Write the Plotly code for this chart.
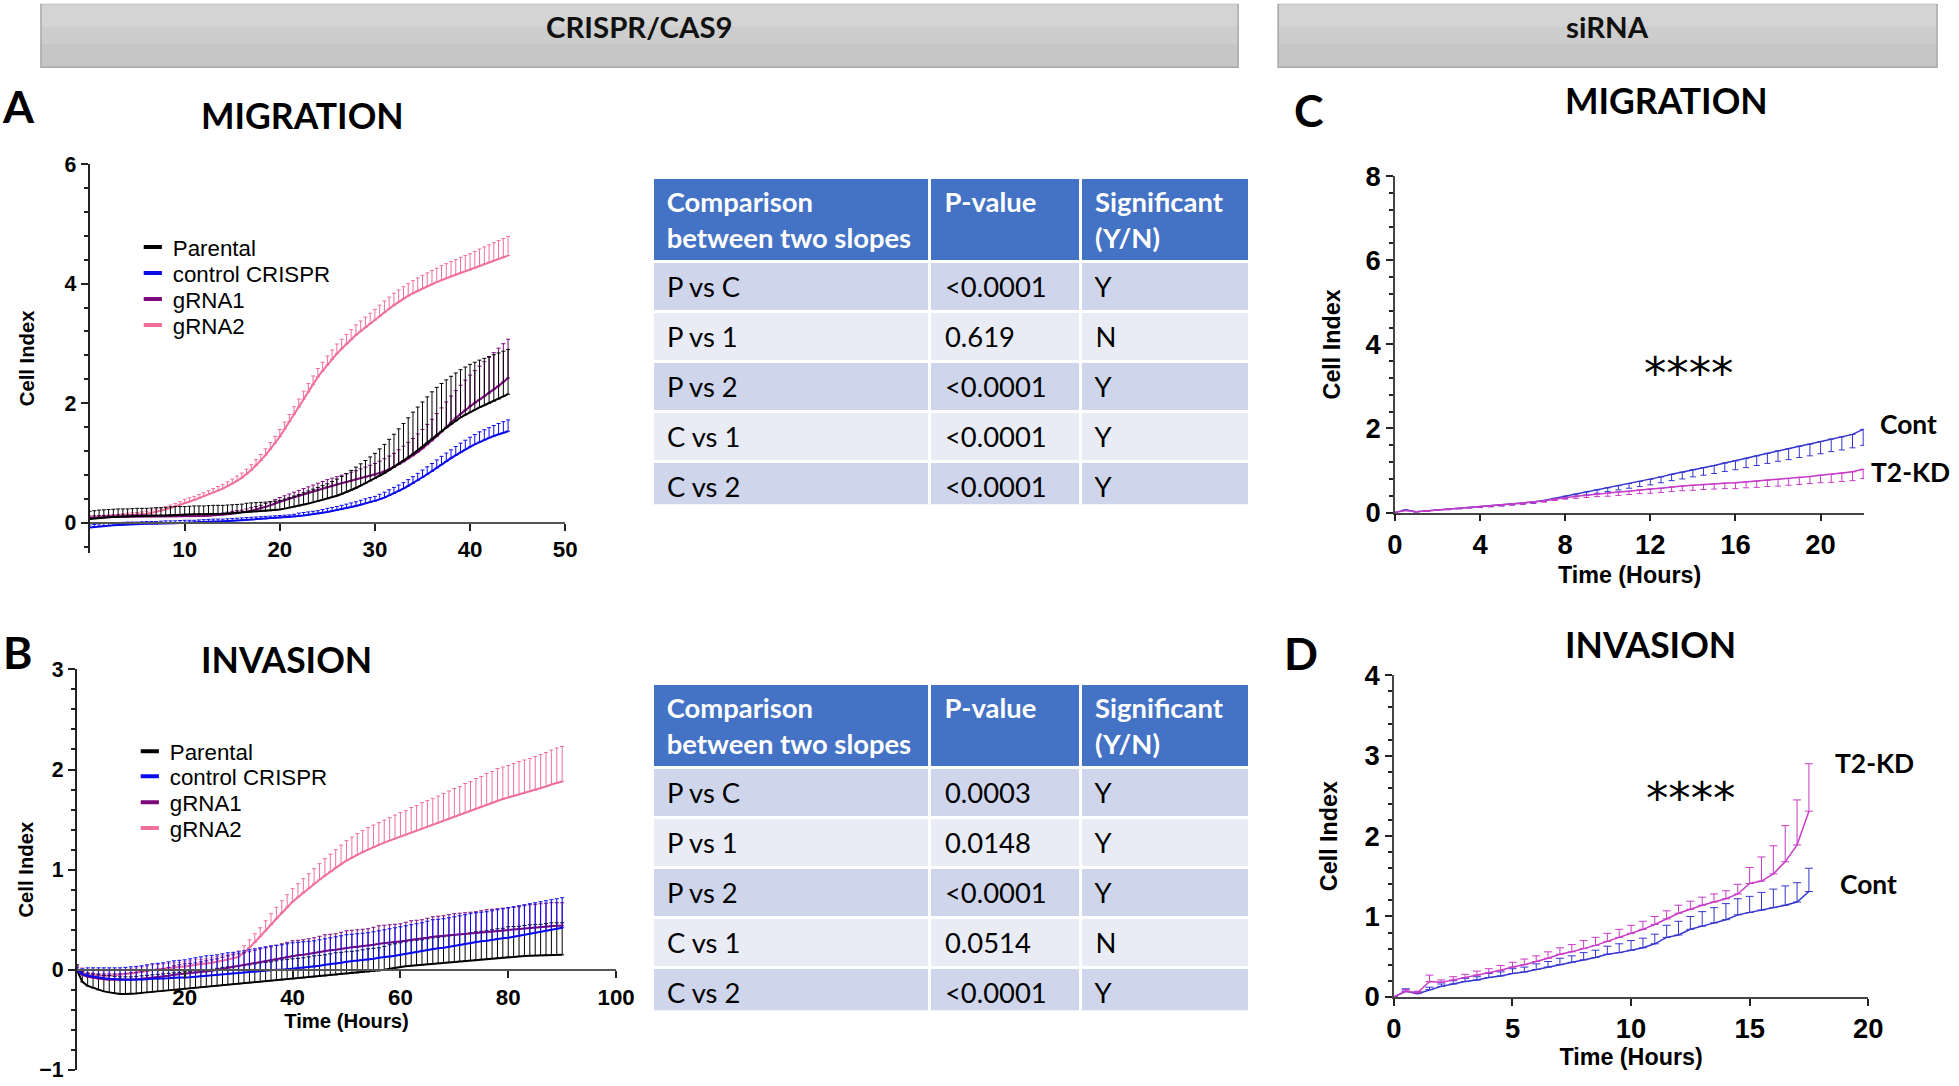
import plotly.graph_objects as go

W, H = 1959, 1086

# ---------------- DATA ----------------
hours_A = [i * 0.5 for i in range(89)]
parental_A = [0.06,0.07,0.08,0.085,0.09,0.095,0.10,0.10,0.10,0.105,
              0.11,0.11,0.11,0.115,0.12,0.12,0.12,0.125,0.13,0.13,
              0.13,0.135,0.14,0.14,0.14,0.145,0.15,0.15,0.15,0.155,
              0.16,0.165,0.17,0.175,0.18,0.185,0.19,0.195,0.20,0.21,
              0.22,0.235,0.25,0.265,0.28,0.30,0.32,0.34,0.36,0.38,
              0.40,0.425,0.45,0.48,0.51,0.545,0.58,0.62,0.66,0.70,
              0.74,0.785,0.83,0.88,0.93,0.985,1.04,1.095,1.15,1.21,
              1.27,1.335,1.40,1.465,1.53,1.59,1.65,1.705,1.76,1.805,
              1.85,1.89,1.93,1.965,2.00,2.035,2.07,2.11,2.15]
parental_A_err = [0.13,0.13,0.13,0.13,0.13,0.13,0.13,0.13,0.13,0.13,
                  0.13,0.13,0.13,0.13,0.13,0.13,0.13,0.14,0.14,0.14,
                  0.14,0.14,0.14,0.14,0.14,0.14,0.14,0.14,0.14,0.14,
                  0.14,0.14,0.14,0.15,0.15,0.15,0.15,0.15,0.15,0.15,
                  0.15,0.16,0.17,0.18,0.19,0.20,0.21,0.22,0.23,0.24,
                  0.25,0.265,0.28,0.295,0.31,0.33,0.35,0.365,0.38,0.40,
                  0.42,0.45,0.48,0.515,0.55,0.585,0.62,0.66,0.70,0.725,
                  0.75,0.77,0.79,0.80,0.80,0.80,0.80,0.80,0.80,0.80,
                  0.80,0.795,0.79,0.785,0.78,0.775,0.77,0.76,0.75]
control_A = [-0.08,-0.07,-0.06,-0.055,-0.05,-0.045,-0.04,-0.035,-0.03,-0.03,
             -0.03,-0.025,-0.02,-0.02,-0.02,-0.015,-0.01,-0.01,-0.01,-0.005,
             0.00,0.00,0.00,0.005,0.01,0.015,0.02,0.02,0.02,0.025,
             0.03,0.035,0.04,0.045,0.05,0.055,0.06,0.065,0.07,0.075,
             0.08,0.085,0.09,0.10,0.11,0.12,0.13,0.14,0.15,0.165,
             0.18,0.195,0.21,0.225,0.24,0.26,0.28,0.30,0.32,0.34,
             0.36,0.39,0.42,0.455,0.49,0.53,0.57,0.615,0.66,0.71,
             0.76,0.81,0.86,0.915,0.97,1.025,1.08,1.13,1.18,1.225,
             1.27,1.31,1.35,1.385,1.42,1.45,1.48,1.505,1.53]
control_A_err = [0.04,0.04,0.04,0.04,0.04,0.04,0.04,0.04,0.04,0.04,
                 0.04,0.04,0.04,0.04,0.04,0.04,0.04,0.04,0.04,0.04,
                 0.04,0.04,0.04,0.04,0.04,0.04,0.04,0.04,0.04,0.04,
                 0.04,0.04,0.04,0.04,0.04,0.04,0.04,0.04,0.04,0.04,
                 0.04,0.04,0.04,0.04,0.05,0.05,0.05,0.05,0.05,0.055,
                 0.06,0.06,0.06,0.065,0.07,0.07,0.07,0.075,0.08,0.08,
                 0.08,0.085,0.09,0.095,0.10,0.10,0.10,0.105,0.11,0.115,
                 0.12,0.125,0.13,0.135,0.14,0.14,0.14,0.145,0.15,0.155,
                 0.16,0.165,0.17,0.17,0.17,0.175,0.18,0.185,0.19]
grna1_A = [0.08,0.085,0.09,0.09,0.09,0.095,0.10,0.10,0.10,0.10,
           0.10,0.10,0.10,0.10,0.10,0.10,0.10,0.10,0.10,0.105,
           0.11,0.11,0.11,0.11,0.11,0.115,0.12,0.125,0.13,0.14,
           0.15,0.16,0.17,0.185,0.20,0.22,0.24,0.265,0.29,0.32,
           0.35,0.375,0.40,0.425,0.45,0.475,0.50,0.525,0.55,0.575,
           0.60,0.62,0.64,0.66,0.68,0.70,0.72,0.74,0.76,0.78,
           0.80,0.83,0.86,0.895,0.93,0.975,1.02,1.07,1.12,1.18,
           1.24,1.305,1.37,1.445,1.52,1.60,1.68,1.75,1.82,1.885,
           1.95,2.005,2.06,2.115,2.17,2.23,2.29,2.355,2.42]
grna1_A_err = [0.03,0.03,0.03,0.03,0.03,0.03,0.03,0.03,0.03,0.03,
               0.03,0.03,0.03,0.03,0.03,0.03,0.03,0.03,0.03,0.03,
               0.03,0.03,0.03,0.03,0.03,0.03,0.03,0.03,0.03,0.035,
               0.04,0.04,0.04,0.045,0.05,0.05,0.05,0.055,0.06,0.065,
               0.07,0.075,0.08,0.085,0.09,0.095,0.10,0.105,0.11,0.115,
               0.12,0.125,0.13,0.135,0.14,0.145,0.15,0.16,0.17,0.18,
               0.19,0.20,0.21,0.22,0.23,0.245,0.26,0.275,0.29,0.305,
               0.32,0.34,0.36,0.38,0.40,0.42,0.44,0.46,0.48,0.50,
               0.52,0.54,0.56,0.58,0.60,0.615,0.63,0.64,0.65]
grna2_A = [0.08,0.085,0.09,0.095,0.10,0.105,0.11,0.115,0.12,0.125,
           0.13,0.14,0.15,0.165,0.18,0.20,0.22,0.245,0.27,0.30,
           0.33,0.355,0.38,0.41,0.44,0.47,0.50,0.535,0.57,0.61,
           0.65,0.70,0.75,0.81,0.88,0.96,1.04,1.13,1.23,1.33,
           1.44,1.565,1.69,1.815,1.94,2.065,2.19,2.315,2.44,2.54,
           2.64,2.735,2.83,2.91,2.99,3.065,3.14,3.205,3.27,3.33,
           3.39,3.455,3.52,3.58,3.64,3.695,3.75,3.795,3.84,3.88,
           3.92,3.955,3.99,4.025,4.06,4.09,4.12,4.15,4.18,4.205,
           4.23,4.265,4.30,4.33,4.36,4.39,4.42,4.445,4.47]
grna2_A_err = [0.03,0.03,0.03,0.03,0.03,0.03,0.03,0.035,0.04,0.04,
               0.04,0.04,0.04,0.045,0.05,0.05,0.05,0.05,0.05,0.055,
               0.06,0.06,0.06,0.06,0.06,0.065,0.07,0.07,0.07,0.075,
               0.08,0.08,0.08,0.085,0.09,0.095,0.10,0.105,0.11,0.115,
               0.12,0.12,0.12,0.125,0.13,0.135,0.14,0.14,0.14,0.145,
               0.15,0.155,0.16,0.16,0.16,0.165,0.17,0.17,0.17,0.175,
               0.18,0.185,0.19,0.195,0.20,0.20,0.20,0.205,0.21,0.215,
               0.22,0.225,0.23,0.235,0.24,0.245,0.25,0.255,0.26,0.265,
               0.27,0.275,0.28,0.285,0.29,0.295,0.30,0.31,0.32]

hours_B = list(range(91))
parental_B = [0.00,-0.12,-0.16,-0.18,-0.20,-0.215,-0.225,-0.235,-0.24,-0.24,
              -0.24,-0.235,-0.23,-0.225,-0.22,-0.215,-0.21,-0.205,-0.20,-0.195,
              -0.19,-0.185,-0.18,-0.175,-0.17,-0.165,-0.16,-0.155,-0.15,-0.145,
              -0.14,-0.135,-0.13,-0.125,-0.12,-0.115,-0.11,-0.105,-0.10,-0.095,
              -0.09,-0.085,-0.08,-0.075,-0.07,-0.065,-0.06,-0.055,-0.05,-0.045,
              -0.04,-0.035,-0.03,-0.025,-0.02,-0.015,-0.01,0.00,0.01,0.02,
              0.03,0.035,0.04,0.045,0.05,0.055,0.06,0.065,0.07,0.075,
              0.08,0.085,0.09,0.095,0.10,0.105,0.11,0.115,0.12,0.125,
              0.13,0.132,0.135,0.138,0.14,0.142,0.145,0.148,0.15,0.15,
              0.15]
parental_B_err = [0.05,0.10,0.12,0.14,0.15,0.16,0.17,0.17,0.17,0.17,
                  0.17,0.17,0.17,0.17,0.17,0.17,0.17,0.17,0.17,0.17,
                  0.17,0.17,0.17,0.17,0.17,0.17,0.175,0.18,0.18,0.18,
                  0.18,0.18,0.18,0.185,0.19,0.19,0.19,0.195,0.20,0.20,
                  0.20,0.20,0.20,0.205,0.21,0.21,0.21,0.215,0.22,0.22,
                  0.22,0.22,0.22,0.225,0.23,0.23,0.23,0.235,0.24,0.24,
                  0.24,0.245,0.25,0.25,0.25,0.255,0.26,0.26,0.26,0.265,
                  0.27,0.27,0.27,0.275,0.28,0.28,0.28,0.285,0.29,0.29,
                  0.30,0.30,0.30,0.305,0.31,0.31,0.31,0.315,0.32,0.32,
                  0.32]
control_B = [0.00,-0.04,-0.06,-0.07,-0.08,-0.085,-0.09,-0.095,-0.10,-0.10,
             -0.10,-0.10,-0.10,-0.095,-0.09,-0.09,-0.09,-0.085,-0.08,-0.08,
             -0.08,-0.075,-0.07,-0.065,-0.06,-0.055,-0.05,-0.045,-0.04,-0.035,
             -0.03,-0.025,-0.02,-0.015,-0.01,-0.005,0.00,0.00,0.00,0.005,
             0.01,0.015,0.02,0.025,0.03,0.04,0.05,0.055,0.06,0.07,
             0.08,0.085,0.09,0.095,0.10,0.11,0.12,0.125,0.13,0.14,
             0.15,0.16,0.17,0.18,0.19,0.20,0.21,0.215,0.22,0.23,
             0.24,0.25,0.26,0.27,0.28,0.285,0.29,0.30,0.31,0.315,
             0.32,0.33,0.34,0.35,0.36,0.37,0.38,0.39,0.40,0.41,
             0.42]
control_B_err = [0.02,0.05,0.08,0.09,0.10,0.105,0.11,0.115,0.12,0.125,
                 0.13,0.135,0.14,0.145,0.15,0.155,0.16,0.165,0.17,0.175,
                 0.18,0.185,0.19,0.195,0.20,0.20,0.20,0.205,0.21,0.21,
                 0.21,0.215,0.22,0.225,0.23,0.235,0.24,0.245,0.25,0.255,
                 0.26,0.26,0.26,0.26,0.26,0.26,0.26,0.265,0.27,0.27,
                 0.27,0.27,0.27,0.27,0.27,0.27,0.27,0.275,0.28,0.28,
                 0.28,0.28,0.28,0.28,0.28,0.285,0.29,0.29,0.29,0.29,
                 0.29,0.29,0.29,0.29,0.29,0.29,0.29,0.29,0.29,0.295,
                 0.30,0.30,0.30,0.30,0.30,0.30,0.30,0.30,0.30,0.30,
                 0.30]
grna1_B = [0.00,-0.05,-0.07,-0.08,-0.09,-0.095,-0.10,-0.10,-0.10,-0.10,
           -0.10,-0.095,-0.09,-0.085,-0.08,-0.075,-0.07,-0.06,-0.05,-0.045,
           -0.04,-0.035,-0.03,-0.025,-0.02,-0.01,0.00,0.01,0.02,0.03,
           0.04,0.05,0.06,0.07,0.08,0.09,0.10,0.11,0.12,0.13,
           0.14,0.145,0.15,0.16,0.17,0.18,0.19,0.195,0.20,0.21,
           0.22,0.225,0.23,0.235,0.24,0.25,0.26,0.265,0.27,0.275,
           0.28,0.29,0.30,0.305,0.31,0.32,0.33,0.335,0.34,0.345,
           0.35,0.355,0.36,0.365,0.37,0.375,0.38,0.385,0.39,0.395,
           0.40,0.405,0.41,0.415,0.42,0.425,0.43,0.435,0.44,0.44,
           0.44]
grna1_B_err = [0.03,0.035,0.04,0.045,0.05,0.055,0.06,0.06,0.06,0.065,
               0.07,0.07,0.07,0.075,0.08,0.08,0.08,0.085,0.09,0.095,
               0.10,0.10,0.10,0.105,0.11,0.11,0.11,0.115,0.12,0.12,
               0.12,0.12,0.12,0.125,0.13,0.13,0.13,0.135,0.14,0.145,
               0.15,0.15,0.15,0.15,0.15,0.155,0.16,0.16,0.16,0.165,
               0.17,0.17,0.17,0.17,0.17,0.175,0.18,0.18,0.18,0.18,
               0.18,0.185,0.19,0.19,0.19,0.195,0.20,0.20,0.20,0.205,
               0.21,0.21,0.21,0.21,0.21,0.215,0.22,0.22,0.22,0.22,
               0.22,0.22,0.22,0.225,0.23,0.23,0.23,0.23,0.23,0.23,
               0.23]
grna2_B = [0.00,-0.03,-0.05,-0.055,-0.06,-0.06,-0.06,-0.055,-0.05,-0.045,
           -0.04,-0.03,-0.02,-0.01,0.00,0.005,0.01,0.015,0.02,0.025,
           0.03,0.04,0.05,0.055,0.06,0.07,0.08,0.09,0.10,0.115,
           0.13,0.17,0.22,0.275,0.33,0.39,0.45,0.51,0.57,0.625,
           0.68,0.725,0.77,0.815,0.86,0.90,0.94,0.98,1.02,1.055,
           1.09,1.12,1.15,1.175,1.20,1.225,1.25,1.27,1.29,1.31,
           1.33,1.35,1.37,1.39,1.41,1.43,1.45,1.47,1.49,1.51,
           1.53,1.55,1.57,1.59,1.61,1.63,1.65,1.67,1.69,1.705,
           1.72,1.735,1.75,1.765,1.78,1.795,1.81,1.83,1.85,1.865,
           1.88]
grna2_B_err = [0.05,0.05,0.05,0.05,0.05,0.05,0.05,0.05,0.05,0.05,
               0.05,0.05,0.05,0.05,0.05,0.05,0.05,0.05,0.05,0.05,
               0.05,0.05,0.05,0.05,0.05,0.05,0.05,0.05,0.05,0.05,
               0.06,0.07,0.08,0.085,0.09,0.10,0.11,0.115,0.12,0.125,
               0.13,0.135,0.14,0.145,0.15,0.16,0.17,0.175,0.18,0.19,
               0.20,0.205,0.21,0.215,0.22,0.22,0.22,0.225,0.23,0.235,
               0.24,0.24,0.25,0.25,0.26,0.26,0.26,0.265,0.27,0.275,
               0.28,0.28,0.29,0.29,0.30,0.30,0.31,0.31,0.32,0.32,
               0.32,0.325,0.33,0.33,0.33,0.335,0.34,0.34,0.345,0.35,
               0.35]

hours_C = [i * 0.5 for i in range(45)]
cont_C = [0,0.06,0.02,0.04,0.06,0.08,0.10,0.12,0.14,0.16,0.18,0.20,0.22,0.25,0.29,0.34,0.39,0.44,0.49,0.54,
          0.59,0.64,0.69,0.74,0.79,0.85,0.91,0.96,1.02,1.07,1.12,1.18,1.23,1.29,1.35,1.41,1.47,1.52,1.58,1.63,
          1.69,1.75,1.80,1.86,1.98]
cont_C_err = [0,0,0.01,0.01,0.01,0.01,0.01,0.01,0.02,0.02,0.02,0.02,0.02,0.03,0.03,0.04,0.05,0.06,0.07,0.08,
              0.09,0.10,0.11,0.12,0.13,0.14,0.15,0.16,0.17,0.18,0.19,0.20,0.21,0.22,0.23,0.24,0.25,0.26,0.27,0.28,
              0.29,0.30,0.31,0.32,0.38]
kd_C = [0,0.05,0.02,0.04,0.06,0.08,0.10,0.12,0.14,0.16,0.18,0.20,0.22,0.25,0.28,0.32,0.36,0.39,0.41,0.44,
        0.46,0.49,0.51,0.54,0.56,0.58,0.61,0.63,0.65,0.67,0.69,0.70,0.71,0.73,0.75,0.77,0.79,0.81,0.84,0.86,
        0.89,0.91,0.94,0.97,1.03]
kd_C_err = [0,0,0.01,0.01,0.01,0.01,0.01,0.01,0.01,0.02,0.02,0.02,0.02,0.02,0.03,0.03,0.04,0.05,0.05,0.06,
            0.07,0.08,0.08,0.09,0.10,0.10,0.11,0.11,0.12,0.12,0.13,0.13,0.14,0.14,0.15,0.15,0.16,0.16,0.17,0.17,
            0.18,0.19,0.20,0.21,0.22]

hours_D = [i * 0.5 for i in range(36)]
cont_D = [0,0.07,0.04,0.09,0.13,0.16,0.19,0.21,0.24,0.26,0.29,0.31,0.34,0.37,0.40,0.43,0.46,0.49,
          0.53,0.55,0.58,0.61,0.66,0.74,0.77,0.84,0.88,0.92,0.96,1.02,1.05,1.08,1.11,1.14,1.18,1.31]
cont_D_err = [0,0.03,0.02,0.03,0.03,0.04,0.04,0.04,0.05,0.05,0.06,0.06,0.07,0.07,0.08,0.08,0.09,0.09,
              0.10,0.11,0.12,0.12,0.12,0.15,0.17,0.16,0.18,0.19,0.20,0.20,0.20,0.22,0.23,0.24,0.24,0.29]
kd_D = [0,0.07,0.05,0.19,0.18,0.21,0.24,0.27,0.30,0.33,0.37,0.40,0.44,0.48,0.53,0.56,0.60,0.64,
        0.69,0.74,0.79,0.84,0.90,0.97,1.04,1.09,1.14,1.18,1.22,1.28,1.41,1.44,1.53,1.68,1.89,2.31]
kd_D_err = [0,0.02,0.02,0.08,0.03,0.04,0.04,0.05,0.05,0.06,0.06,0.07,0.07,0.08,0.08,0.09,0.10,0.10,
            0.10,0.10,0.10,0.10,0.10,0.10,0.10,0.10,0.10,0.10,0.10,0.12,0.20,0.30,0.35,0.45,0.56,0.59]

comparisons = ["P vs C", "P vs 1", "P vs 2", "C vs 1", "C vs 2"]
pvals_mig = ["&lt;0.0001", "0.619", "&lt;0.0001", "&lt;0.0001", "&lt;0.0001"]
sig_mig = ["Y", "N", "Y", "Y", "Y"]
pvals_inv = ["0.0003", "0.0148", "&lt;0.0001", "0.0514", "&lt;0.0001"]
sig_inv = ["Y", "Y", "Y", "N", "Y"]
table_header = ["Comparison<br>between two slopes", "P-value", "Significant<br>(Y/N)"]

crispr_names = ["Parental", "control CRISPR", "gRNA1", "gRNA2"]
crispr_colors = {"Parental": "#000000", "control CRISPR": "#0a0aee", "gRNA1": "#7a087a", "gRNA2": "#f0709a"}
sirna_colors = {"Cont": "#3535cf", "T2-KD": "#c83ac8"}

# ---------------- PLACEMENT HELPERS ----------------
# The captured picture maps page pixel p to about OX + SX*p (x) and OY + SY*p (y);
# positions below are given in picture pixels and converted back to paper fractions.
SX, OX = 0.9877, 7.0
SY, OY = 0.973, 14.6

def fx(p):
    return min(max((p - OX) / SX / W, 0.0), 1.0)

def fy(p):
    return min(max(1 - (p - OY) / SY / H, 0.0), 1.0)

def fs(s):
    return round(s * 1.015, 1)

fig = go.Figure()

def add_series(x, y, err, color, xa, ya, up=True, lw=2, cap=3, thick=1):
    zeros = [0] * len(err)
    ey = dict(type="data", symmetric=False, array=err if up else zeros, arrayminus=zeros if up else err,
              color=color, thickness=thick, width=cap)
    fig.add_trace(go.Scatter(x=x, y=y, mode="lines", line=dict(color=color, width=lw),
                             error_y=ey, xaxis=xa, yaxis=ya, showlegend=False, hoverinfo="skip"))

add_series(hours_A, grna2_A, grna2_A_err, crispr_colors["gRNA2"], "x", "y", cap=2)
add_series(hours_A, control_A, control_A_err, crispr_colors["control CRISPR"], "x", "y", cap=2)
add_series(hours_A, grna1_A, grna1_A_err, crispr_colors["gRNA1"], "x", "y", cap=2)
add_series(hours_A, parental_A, parental_A_err, crispr_colors["Parental"], "x", "y", cap=2)

add_series(hours_B, grna2_B, grna2_B_err, crispr_colors["gRNA2"], "x2", "y2", cap=2)
add_series(hours_B, parental_B, parental_B_err, crispr_colors["Parental"], "x2", "y2", cap=2)
add_series(hours_B, grna1_B, grna1_B_err, crispr_colors["gRNA1"], "x2", "y2", cap=2)
add_series(hours_B, control_B, control_B_err, crispr_colors["control CRISPR"], "x2", "y2", cap=2)

add_series(hours_C, cont_C, cont_C_err, sirna_colors["Cont"], "x3", "y3", up=False, lw=1.5, cap=3)
add_series(hours_C, kd_C, kd_C_err, sirna_colors["T2-KD"], "x3", "y3", up=False, lw=1.5, cap=3)

add_series(hours_D, cont_D, cont_D_err, sirna_colors["Cont"], "x4", "y4", up=True, lw=1.5, cap=4)
add_series(hours_D, kd_D, kd_D_err, sirna_colors["T2-KD"], "x4", "y4", up=True, lw=1.5, cap=4)

# Legend entries: one small legend per entry so that row spacing matches the figure
legend_rows = {
    "A": dict(xa="x", ya="y", left=132, centers=[247, 273, 299, 325]),
    "B": dict(xa="x2", ya="y2", left=129, centers=[752, 777, 803, 829]),
}
legend_layout = {}
k = 1
for panel, spec in legend_rows.items():
    for name, cy in zip(crispr_names, spec["centers"]):
        lid = "legend" if k == 1 else f"legend{k}"
        fig.add_trace(go.Scatter(x=[None], y=[None], mode="markers", name=name,
                                 marker=dict(symbol="line-ew", size=13,
                                             line=dict(color=crispr_colors[name], width=4)),
                                 xaxis=spec["xa"], yaxis=spec["ya"], legend=lid, showlegend=True))
        legend_layout[lid] = dict(x=fx(spec["left"]), y=fy(cy), xanchor="left", yanchor="middle",
                                  font=dict(family="Liberation Sans", size=fs(22), color="black"),
                                  bgcolor="rgba(0,0,0,0)", itemclick=False, borderwidth=0)
        k += 1

# Tables
row_fill = ["#CFD5EA", "#E9EBF5", "#CFD5EA", "#E9EBF5", "#CFD5EA"]
def span(vals):
    return [f"<span>\u00a0{v}</span>" for v in vals]

header_vals = [f"<b>\u00a0{h.replace('<br>', '<br>&nbsp;')}</b>" for h in table_header]

for vals, (top, bot) in [((comparisons, pvals_mig, sig_mig), (177, 505)),
                         ((comparisons, pvals_inv, sig_inv), (684, 1012))]:
    fig.add_trace(go.Table(
        domain=dict(x=[fx(652), fx(1250)], y=[fy(bot), fy(top)]),
        columnwidth=[277, 150, 168],
        header=dict(values=header_vals, fill_color="#4472C4", align="left", height=82,
                    font=dict(family="Lato", size=fs(27), color="white"),
                    line=dict(color="white", width=3)),
        cells=dict(values=[span(v) for v in vals], fill_color=[row_fill] * 3, align="left", height=50,
                   font=dict(family="Lato", size=fs(27), color="black"),
                   line=dict(color="white", width=3)),
    ))

# ---------------- AXES ----------------
AX = "#222222"

def base_axis(size):
    return dict(showline=True, linecolor=AX, linewidth=2, ticks="outside", ticklen=7, tickwidth=2,
                tickcolor=AX, showgrid=False, zeroline=False,
                tickfont=dict(family="Liberation Sans", size=fs(size), color="black", weight="bold"))

def zero_pos(dom, rng):
    return dom[0] + (0 - rng[0]) / (rng[1] - rng[0]) * (dom[1] - dom[0])

title_font = dict(family="Liberation Sans", size=fs(20), color="black", weight="bold")
title_font_big = dict(family="Liberation Sans", size=fs(23), color="black", weight="bold")

A_xdom = [fx(88.7), fx(565)]
A_ydom = [fy(553), fy(164)]
A_yr = [-0.5, 6]
xa = base_axis(22)
xa.update(domain=A_xdom, range=[0, 50], tickmode="array", tickvals=[10, 20, 30, 40, 50],
          anchor="free", position=zero_pos(A_ydom, A_yr), linecolor="#555555")
ya = base_axis(21)
ya.update(domain=A_ydom, range=A_yr, tickmode="linear", tick0=0, dtick=2, anchor="x",
          minor=dict(tick0=0, dtick=0.4, ticks="outside", ticklen=4, tickwidth=1.5, tickcolor=AX),
          title=dict(text="Cell Index", font=title_font, standoff=24))

B_xdom = [fx(76), fx(616)]
B_ydom = [fy(1073), fy(670)]
B_yr = [-1, 3]
xb = base_axis(22)
xb.update(domain=B_xdom, range=[0, 100], tickmode="array", tickvals=[20, 40, 60, 80, 100],
          anchor="free", position=zero_pos(B_ydom, B_yr), linecolor="#555555",
          title=dict(text="Time (Hours)", font=title_font, standoff=3))
yb = base_axis(21)
yb.update(domain=B_ydom, range=B_yr, tickmode="linear", tick0=0, dtick=1, anchor="x2",
          minor=dict(tick0=0, dtick=0.2, ticks="outside", ticklen=4, tickwidth=1.5, tickcolor=AX),
          title=dict(text="Cell Index", font=title_font, standoff=0))

xc = base_axis(27)
xc.update(domain=[fx(1396), fx(1866)], range=[0, 22.05], tickmode="linear", tick0=0, dtick=4,
          anchor="y3", linecolor="#444444", linewidth=1.5,
          title=dict(text="Time (Hours)", font=title_font_big, standoff=7))
yc = base_axis(27)
yc.update(domain=[fy(513), fy(176)], range=[0, 8], tickmode="linear", tick0=0, dtick=2, anchor="x3",
          linecolor="#444444", linewidth=1.5,
          minor=dict(tick0=0, dtick=0.4, ticks="outside", ticklen=4, tickwidth=1.5, tickcolor=AX),
          title=dict(text="Cell Index", font=title_font_big, standoff=18))

xd = base_axis(27)
xd.update(domain=[fx(1395), fx(1870)], range=[0, 20], tickmode="linear", tick0=0, dtick=5,
          anchor="y4", linecolor="#444444", linewidth=1.5,
          title=dict(text="Time (Hours)", font=title_font_big, standoff=1))
yd = base_axis(27)
yd.update(domain=[fy(998), fy(676)], range=[0, 4], tickmode="linear", tick0=0, dtick=1, anchor="x4",
          linecolor="#444444", linewidth=1.5,
          minor=dict(tick0=0, dtick=0.2, ticks="outside", ticklen=4, tickwidth=1.5, tickcolor=AX),
          title=dict(text="Cell Index", font=title_font_big, standoff=20))

fig.update_layout(
    width=W, height=H, margin=dict(l=0, r=0, t=0, b=0),
    paper_bgcolor="white", plot_bgcolor="white",
    xaxis=xa, yaxis=ya, xaxis2=xb, yaxis2=yb, xaxis3=xc, yaxis3=yc, xaxis4=xd, yaxis4=yd,
    **legend_layout,
)

# ---------------- HEADERS / LABELS ----------------
for x0, x1, label in [(40, 1239, "CRISPR/CAS9"), (1279, 1939, "siRNA")]:
    fig.add_shape(type="rect", xref="paper", yref="paper", x0=fx(x0), x1=fx(x1), y0=fy(67), y1=1.01,
                  fillcolor="#c6c6c6", line=dict(color="#a8a8a8", width=1.5), layer="below")
    fig.add_shape(type="rect", xref="paper", yref="paper", x0=fx(x0 + 1), x1=fx(x1 - 1), y0=fy(44), y1=1.01,
                  fillcolor="#cdcdcd", line=dict(width=0), layer="below")
    fig.add_shape(type="rect", xref="paper", yref="paper", x0=fx(x0 + 1), x1=fx(x1 - 1), y0=fy(26), y1=1.01,
                  fillcolor="#d4d4d4", line=dict(width=0), layer="below")
    fig.add_annotation(xref="paper", yref="paper", x=fx((x0 + x1) / 2), y=fy(26), text=f"<b>{label}</b>",
                       showarrow=False, font=dict(family="Lato", size=fs(29), color="#111111"),
                       xanchor="center", yanchor="middle")

big_labels = [("A", 18, 106), ("B", 17, 653), ("C", 1310, 110), ("D", 1302, 654)]
for t, x, y in big_labels:
    fig.add_annotation(xref="paper", yref="paper", x=fx(x), y=fy(y), text=f"<b>{t}</b>", showarrow=False,
                       font=dict(family="Lato", size=fs(44), color="black"), xanchor="center", yanchor="middle")

panel_titles = [("MIGRATION", 302, 115), ("INVASION", 286, 660), ("MIGRATION", 1668, 100), ("INVASION", 1652, 645)]
for t, x, y in panel_titles:
    fig.add_annotation(xref="paper", yref="paper", x=fx(x), y=fy(y), text=f"<b>{t}</b>", showarrow=False,
                       font=dict(family="Lato", size=fs(35), color="black"), xanchor="center", yanchor="middle")

series_labels = [("Cont", 1880, 424), ("T2-KD", 1871, 472), ("T2-KD", 1835, 764), ("Cont", 1840, 885)]
for t, x, y in series_labels:
    fig.add_annotation(xref="paper", yref="paper", x=fx(x), y=fy(y), text=f"<b>{t}</b>", showarrow=False,
                       font=dict(family="Lato", size=fs(26), color="black"), xanchor="left", yanchor="middle")

for xr, yr, xv, yv in [("x3", "y3", 13.8, 3.3), ("x4", "y4", 12.5, 2.46)]:
    fig.add_annotation(xref=xr, yref=yr, x=xv, y=yv, text="****", showarrow=False,
                       font=dict(family="DejaVu Sans", size=fs(44), color="black"),
                       xanchor="center", yanchor="middle")

fig.write_html("out.html", config={"displayModeBar": False},
               post_script="document.body.style.margin='0px';document.body.style.overflow='hidden';")
